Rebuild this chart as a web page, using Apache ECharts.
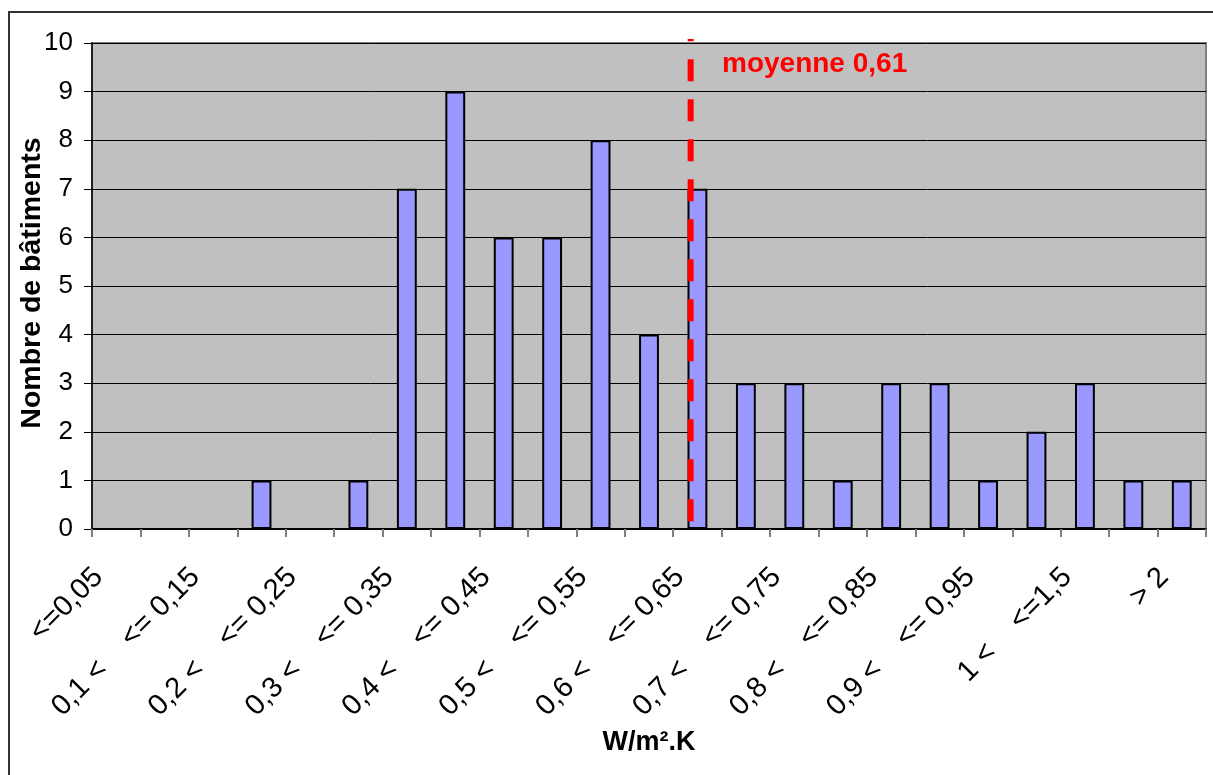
<!DOCTYPE html>
<html>
<head>
<meta charset="utf-8">
<script src="https://cdn.jsdelivr.net/npm/echarts@6/dist/echarts.min.js"></script>
<style>
html,body{margin:0;padding:0;background:#fff;}
#chart{width:1213px;height:775px;}
</style>
</head>
<body>
<div id="chart"></div>
<script>
const categories = [
  '<=0,05', '0,05 < <= 0,1', '0,1 < <= 0,15', '0,15 < <= 0,2', '0,2 < <= 0,25',
  '0,25 < <= 0,3', '0,3 < <= 0,35', '0,35 < <= 0,4', '0,4 < <= 0,45', '0,45 < <= 0,5',
  '0,5 < <= 0,55', '0,55 < <= 0,6', '0,6 < <= 0,65', '0,65 < <= 0,7', '0,7 < <= 0,75',
  '0,75 < <= 0,8', '0,8 < <= 0,85', '0,85 < <= 0,9', '0,9 < <= 0,95', '0,95 < <= 1',
  '1 < <=1,5', '1,5 < <= 2', '> 2'
];
const counts = [0, 0, 0, 1, 0, 1, 7, 9, 6, 6, 8, 4, 7, 3, 3, 1, 3, 3, 1, 2, 3, 1, 1];
const yTicks = { min: 0, max: 10, interval: 1 };
const meanLabel = 'moyenne 0,61';
// position of the mean line in category units
const meanPos = 12.36;
const meanLineY = [0.16, 10.08];
const xTitle = 'W/m².K';
const yTitle = 'Nombre de bâtiments';

const FONT = "'Liberation Sans', Arial, sans-serif";
const chart = echarts.init(document.getElementById('chart'), null, { renderer: 'canvas' });
const NB = '\u00a0';

const option = {
  animation: false,
  backgroundColor: '#fff',
  grid: {
    left: 92, right: 7, top: 43, bottom: 246,
    containLabel: false,
    outerBoundsMode: 'none',
    show: true, backgroundColor: '#C0C0C0', borderColor: '#808080', borderWidth: 2
  },
  xAxis: [{
    type: 'category',
    data: categories,
    boundaryGap: true,
    axisLine: { show: true, lineStyle: { color: '#000', width: 2 } },
    axisTick: { show: true, interval: 0, length: 8, lineStyle: { color: '#808080', width: 2 } },
    axisLabel: {
      interval: 1,
      rotate: 45,
      margin: 26,
      padding: [0, 9, 0, 0],
      fontFamily: FONT,
      fontSize: 29,
      color: '#000',
      formatter: v => v.replace(' < ', ' <' + NB.repeat(4)) + NB + NB
    },
    name: xTitle,
    nameLocation: 'middle',
    nameGap: 200,
    nameMoveOverlap: false,
    nameTextStyle: { fontFamily: FONT, fontSize: 27, fontWeight: 'bold', color: '#000' }
  }, {
    type: 'value',
    min: 0, max: categories.length,
    show: false
  }],
  yAxis: {
    type: 'value',
    min: yTicks.min, max: yTicks.max, interval: yTicks.interval,
    axisLine: { show: true, lineStyle: { color: '#000', width: 1.5 } },
    axisTick: { show: true, length: 8, lineStyle: { color: '#000', width: 1 } },
    splitLine: { show: true, lineStyle: { color: '#000', width: 1 } },
    axisLabel: { margin: 19, fontFamily: FONT, fontSize: 26, color: '#000' },
    name: yTitle,
    nameLocation: 'middle',
    nameRotate: 90,
    nameGap: 45,
    nameMoveOverlap: false,
    nameTextStyle: { fontFamily: FONT, fontSize: 28.5, fontWeight: 'bold', color: '#000', padding: [0, 0, 0, 6] }
  },
  series: [{
    type: 'bar',
    xAxisIndex: 0,
    data: counts,
    barWidth: '41%',
    itemStyle: { color: '#9999FF', borderColor: '#000', borderWidth: 2 }
  }, {
    type: 'line',
    xAxisIndex: 1,
    data: [[meanPos, meanLineY[0]], [meanPos, meanLineY[1]]],
    symbol: 'none',
    clip: false,
    z: 5,
    lineStyle: { color: '#FF0000', width: 6, type: [22, 18], cap: 'butt' }
  }],
  graphic: [{
    type: 'rect',
    shape: { x: 9, y: 12, width: 1220, height: 800 },
    style: { fill: 'none', stroke: '#333', lineWidth: 2 },
    silent: true
  }, {
    type: 'text',
    left: 722, top: 50,
    style: { text: meanLabel, fill: '#FF0000', font: "bold 28px 'Liberation Sans', Arial, sans-serif" },
    z: 10
  }]
};
chart.setOption(option);
</script>
</body>
</html>
